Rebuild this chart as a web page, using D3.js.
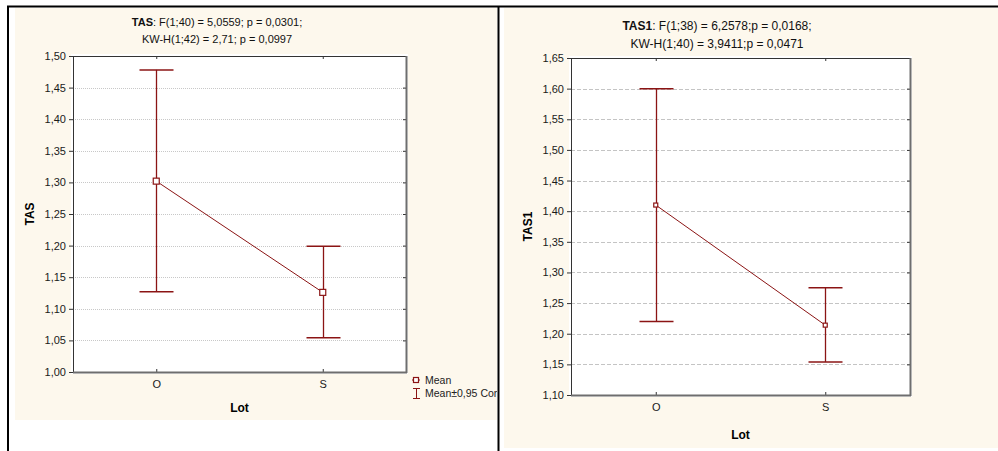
<!DOCTYPE html>
<html>
<head>
<meta charset="utf-8">
<script src="https://cdn.jsdelivr.net/npm/d3@7"></script>
<style>
  body { margin: 0; background: #fff; }
  svg { display: block; font-family: "Liberation Sans", Arial, sans-serif; }
</style>
</head>
<body>
<div id="chart"></div>
<script>
// values
let categories = ["O", "S"];

let tasMean = [1.302, 1.126];
let tasLow = [1.127, 1.054];
let tasHigh = [1.478, 1.199];
let tasTicks = [1.00, 1.05, 1.10, 1.15, 1.20, 1.25, 1.30, 1.35, 1.40, 1.45, 1.50];

let tas1Mean = [1.410, 1.214];
let tas1Low = [1.220, 1.154];
let tas1High = [1.600, 1.275];
let tas1Ticks = [1.10, 1.15, 1.20, 1.25, 1.30, 1.35, 1.40, 1.45, 1.50, 1.55, 1.60, 1.65];

let width = 998, height = 451;
let red = "#8b1414";
let cream = "#fdf8ed";

let svg = d3.select("#chart")
    .append("svg")
    .attr("width", width)
    .attr("height", height);

let defs = svg.append("defs");
defs.append("clipPath")
    .attr("id", "leftClip")
    .append("rect")
    .attr("x", 0).attr("y", 0)
    .attr("width", 497).attr("height", height);

// panel backgrounds
svg.append("rect").attr("x", 15).attr("y", 8).attr("width", 482).attr("height", 412).attr("fill", cream);
svg.append("rect").attr("x", 504).attr("y", 8).attr("width", 494).attr("height", 440).attr("fill", cream);

let fmt = function(d) { return d3.format(".2f")(d).replace(".", ","); };

function drawPanel(cfg) {
    let g = svg.append("g").attr("clip-path", cfg.clip ? "url(#leftClip)" : null);

    let x = d3.scalePoint().domain(categories).range([cfg.left, cfg.right]).padding(0.5);
    let y = d3.scaleLinear().domain(cfg.domain).range([cfg.bottom, cfg.top]);

    // plot area
    g.append("rect")
        .attr("x", cfg.left).attr("y", cfg.top)
        .attr("width", cfg.right - cfg.left).attr("height", cfg.bottom - cfg.top)
        .attr("fill", "#fff")
        .attr("stroke", "#fff").attr("stroke-width", 4);

    // grid
    g.selectAll(".grid")
        .data(cfg.ticks.slice(1, -1))
        .enter()
        .append("line")
        .attr("x1", cfg.left).attr("x2", cfg.right)
        .attr("y1", function(d) { return Math.round(y(d)) + 0.5; })
        .attr("y2", function(d) { return Math.round(y(d)) + 0.5; })
        .attr("stroke", cfg.gridColor)
        .attr("stroke-dasharray", cfg.dash);

    // left axis with labels
    let yAxis = d3.axisLeft(y).tickValues(cfg.ticks).tickFormat(fmt).tickSize(4).tickPadding(3);
    let ya = g.append("g").attr("transform", "translate(" + cfg.left + ",0)").call(yAxis);
    ya.select(".domain").remove();
    ya.selectAll("line").attr("stroke", "#333");
    ya.selectAll("text").attr("font-size", 11).attr("fill", "#1a1a1a")
        .attr("font-family", "Liberation Sans, Arial, sans-serif");

    // right axis, ticks inside
    let yr = g.append("g").attr("transform", "translate(" + cfg.right + ",0)")
        .call(d3.axisLeft(y).tickValues(cfg.ticks).tickFormat("").tickSize(3));
    yr.select(".domain").remove();
    yr.selectAll("line").attr("stroke", "#333");

    // bottom axis with category labels, ticks inside
    let xb = g.append("g").attr("transform", "translate(0," + cfg.bottom + ")")
        .call(d3.axisBottom(x).tickSize(-3).tickPadding(cfg.catPad));
    xb.select(".domain").remove();
    xb.selectAll("line").attr("stroke", "#333");
    xb.selectAll("text").attr("font-size", 11).attr("fill", "#1a1a1a")
        .attr("font-family", "Liberation Sans, Arial, sans-serif");

    let xt = g.append("g").attr("transform", "translate(0," + cfg.top + ")")
        .call(d3.axisTop(x).tickSize(-3).tickFormat(""));
    xt.select(".domain").remove();
    xt.selectAll("line").attr("stroke", "#333");

    // frame: thin dark top/left, thicker grey bottom/right
    g.append("line").attr("x1", cfg.left).attr("x2", cfg.right).attr("y1", cfg.top + 0.5).attr("y2", cfg.top + 0.5)
        .attr("stroke", "#333");
    g.append("line").attr("x1", cfg.left + 0.5).attr("x2", cfg.left + 0.5).attr("y1", cfg.top).attr("y2", cfg.bottom)
        .attr("stroke", "#333");
    g.append("line").attr("x1", cfg.left).attr("x2", cfg.right + 1).attr("y1", cfg.bottom + 0.5).attr("y2", cfg.bottom + 0.5)
        .attr("stroke", "#6e6e6e").attr("stroke-width", 2);
    g.append("line").attr("x1", cfg.right + 0.5).attr("x2", cfg.right + 0.5).attr("y1", cfg.top).attr("y2", cfg.bottom + 1)
        .attr("stroke", "#6e6e6e").attr("stroke-width", 2);

    // error bars
    let capW = 17;
    categories.forEach(function(c, i) {
        let cx = Math.round(x(c)) + 0.5;
        g.append("line").attr("x1", cx).attr("x2", cx)
            .attr("y1", y(cfg.high[i])).attr("y2", y(cfg.low[i]))
            .attr("stroke", red).attr("stroke-width", 1.3);
        [cfg.high[i], cfg.low[i]].forEach(function(v) {
            g.append("line").attr("x1", cx - capW).attr("x2", cx + capW)
                .attr("y1", y(v)).attr("y2", y(v))
                .attr("stroke", red).attr("stroke-width", 1.5);
        });
    });

    // means line
    let line = d3.line()
        .x(function(d, i) { return x(categories[i]); })
        .y(function(d) { return y(d); });
    g.append("path").datum(cfg.mean).attr("d", line)
        .attr("fill", "none").attr("stroke", red).attr("stroke-width", 1);

    g.selectAll(".mean")
        .data(cfg.mean)
        .enter()
        .append("rect")
        .attr("x", function(d, i) { return x(categories[i]) - cfg.marker / 2; })
        .attr("y", function(d) { return y(d) - cfg.marker / 2; })
        .attr("width", cfg.marker).attr("height", cfg.marker)
        .attr("fill", "#fff").attr("stroke", red).attr("stroke-width", 1.2);

    // title
    let t1 = g.append("text").attr("x", cfg.titleX).attr("y", cfg.titleY)
        .attr("text-anchor", "middle").attr("font-size", cfg.titleSize).attr("fill", "#111");
    t1.append("tspan").attr("font-weight", "bold").text(cfg.name);
    t1.append("tspan").text(cfg.title1);
    g.append("text").attr("x", cfg.titleX).attr("y", cfg.titleY + cfg.titleGap)
        .attr("text-anchor", "middle").attr("font-size", cfg.titleSize).attr("fill", "#111")
        .text(cfg.title2);

    // axis titles
    g.append("text")
        .attr("transform", "translate(" + cfg.yTitleX + "," + ((cfg.top + cfg.bottom) / 2) + ") rotate(-90)")
        .attr("text-anchor", "middle").attr("font-size", 12).attr("font-weight", "bold")
        .text(cfg.name);
    g.append("text")
        .attr("x", (cfg.left + cfg.right) / 2).attr("y", cfg.xTitleY)
        .attr("text-anchor", "middle").attr("font-size", 12).attr("font-weight", "bold")
        .text("Lot");

    return g;
}

let leftPanel = drawPanel({
    name: "TAS", title1: ":  F(1;40) = 5,0559; p = 0,0301;", title2: "KW-H(1;42) = 2,71; p = 0,0997",
    titleX: 217, titleY: 26, titleGap: 17, titleSize: 11,
    left: 73, right: 406, top: 56, bottom: 372,
    domain: [1.0, 1.5], ticks: tasTicks,
    mean: tasMean, low: tasLow, high: tasHigh,
    gridColor: "#c8c8c8", dash: "1,1", marker: 6, catPad: 8,
    yTitleX: 34, xTitleY: 412, clip: true
});

drawPanel({
    name: "TAS1", title1: ": F(1;38) = 6,2578;p = 0,0168;", title2: "KW-H(1;40) = 3,9411;p = 0,0471",
    titleX: 717, titleY: 30, titleGap: 18, titleSize: 12,
    left: 571, right: 910, top: 58, bottom: 395,
    domain: [1.1, 1.65], ticks: tas1Ticks,
    mean: tas1Mean, low: tas1Low, high: tas1High,
    gridColor: "#c4c4c4", dash: "4,2", marker: 4, catPad: 8,
    yTitleX: 532, xTitleY: 439, clip: false
});

// legend, left panel only
let legend = leftPanel.append("g").attr("transform", "translate(412,0)");
legend.append("line").attr("x1", 0).attr("x2", 8).attr("y1", 380).attr("y2", 380).attr("stroke", red);
legend.append("rect").attr("x", 1.5).attr("y", 377.5).attr("width", 5).attr("height", 5)
    .attr("fill", "#fff").attr("stroke", red).attr("stroke-width", 1.2);
legend.append("text").attr("x", 13).attr("y", 384).attr("font-size", 10.5).attr("fill", "#222").text("Mean");
legend.append("line").attr("x1", 4.5).attr("x2", 4.5).attr("y1", 388).attr("y2", 399).attr("stroke", red);
legend.append("line").attr("x1", 1).attr("x2", 8).attr("y1", 388.5).attr("y2", 388.5).attr("stroke", red);
legend.append("line").attr("x1", 1).attr("x2", 8).attr("y1", 398.5).attr("y2", 398.5).attr("stroke", red);
legend.append("text").attr("x", 13).attr("y", 397).attr("font-size", 10.5).attr("fill", "#222")
    .text("Mean±0,95 Conf. Interval");

// outer black frame lines
svg.append("line").attr("x1", 7).attr("x2", width).attr("y1", 6.5).attr("y2", 6.5).attr("stroke", "#000").attr("stroke-width", 2);
svg.append("line").attr("x1", 8).attr("x2", 8).attr("y1", 6).attr("y2", height).attr("stroke", "#000").attr("stroke-width", 2);
svg.append("line").attr("x1", 498.5).attr("x2", 498.5).attr("y1", 6).attr("y2", height).attr("stroke", "#000").attr("stroke-width", 2);
</script>
</body>
</html>
